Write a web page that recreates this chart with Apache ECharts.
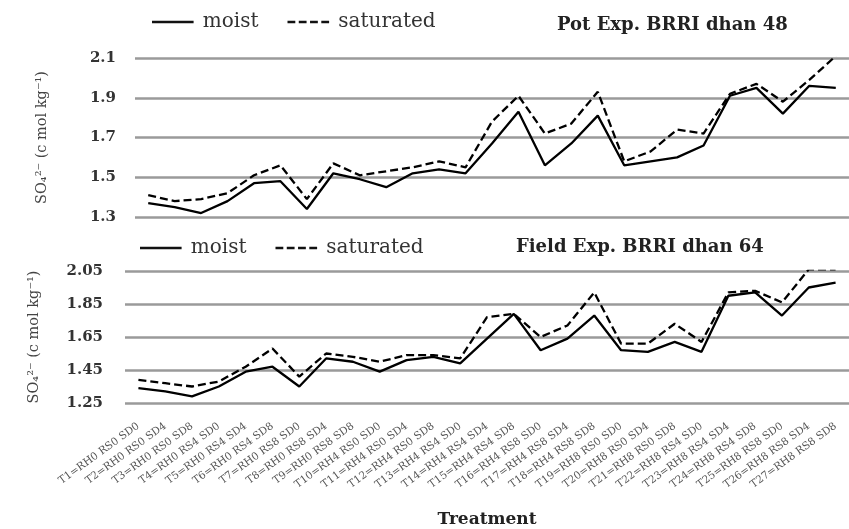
<!DOCTYPE html>
<html>
<head>
<meta charset="utf-8">
<script src="https://cdn.jsdelivr.net/npm/echarts@6/dist/echarts.min.js"></script>
<style>
html,body{margin:0;padding:0;background:#fff;}
#chart{width:849px;height:529px;}
</style>
</head>
<body>
<div id="chart"></div>
<script>
const categories = [
  'T1=RH0 RS0 SD0','T2=RH0 RS0 SD4','T3=RH0 RS0 SD8','T4=RH0 RS4 SD0','T5=RH0 RS4 SD4',
  'T6=RH0 RS4 SD8','T7=RH0 RS8 SD0','T8=RH0 RS8 SD4','T9=RH0 RS8 SD8','T10=RH4 RS0 SD0',
  'T11=RH4 RS0 SD4','T12=RH4 RS0 SD8','T13=RH4 RS4 SD0','T14=RH4 RS4 SD4','T15=RH4 RS4 SD8',
  'T16=RH4 RS8 SD0','T17=RH4 RS8 SD4','T18=RH4 RS8 SD8','T19=RH8 RS0 SD0','T20=RH8 RS0 SD4',
  'T21=RH8 RS0 SD8','T22=RH8 RS4 SD0','T23=RH8 RS4 SD4','T24=RH8 RS4 SD8','T25=RH8 RS8 SD0',
  'T26=RH8 RS8 SD4','T27=RH8 RS8 SD8'
];

// Pot Exp. BRRI dhan 48
const potMoist = [1.37,1.35,1.32,1.38,1.47,1.48,1.34,1.52,1.49,1.45,1.52,1.54,1.52,1.67,1.83,1.56,1.67,1.81,1.56,1.58,1.60,1.66,1.91,1.95,1.82,1.96,1.95];
const potSaturated = [1.41,1.38,1.39,1.42,1.51,1.56,1.39,1.57,1.51,1.53,1.55,1.58,1.55,1.78,1.91,1.72,1.77,1.93,1.58,1.63,1.74,1.72,1.92,1.97,1.88,1.99,2.11];

// Field Exp. BRRI dhan 64
const fieldMoist = [1.34,1.32,1.29,1.35,1.44,1.47,1.35,1.52,1.50,1.44,1.51,1.53,1.49,1.64,1.79,1.57,1.64,1.78,1.57,1.56,1.62,1.56,1.90,1.92,1.78,1.95,1.98];
const fieldSaturated = [1.39,1.37,1.35,1.38,1.47,1.58,1.41,1.55,1.53,1.50,1.54,1.54,1.52,1.77,1.79,1.65,1.72,1.92,1.61,1.61,1.73,1.62,1.92,1.93,1.86,2.06,2.06];

const potTicks = ['1.3','1.5','1.7','1.9','2.1'];
const fieldTicks = ['1.25','1.45','1.65','1.85','2.05'];

const seriesNames = ['moist','saturated'];
const potTitle = 'Pot Exp. BRRI dhan 48';
const fieldTitle = 'Field Exp. BRRI dhan 64';
const yName = 'SO\u2084\u00B2\u207B (c mol kg\u207B\u00B9)';
const xName = 'Treatment';

const serif = '"DejaVu Serif","Liberation Serif",serif';
const gridColor = '#9a9a9a';

function yAxisFor(ticks, dec, step, gridIndex, gap, margin) {
  const mn = parseFloat(ticks[0]), mx = parseFloat(ticks[ticks.length-1]);
  const every = Math.round((parseFloat(ticks[1]) - mn) / step);
  const colors = [gridColor];
  for (let i = 1; i < every; i++) colors.push('rgba(0,0,0,0)');
  return {
    type: 'value', gridIndex: gridIndex, min: mn, max: mx, interval: step,
    axisLine: {show: false}, axisTick: {show: false},
    splitLine: {show: true, lineStyle: {color: colors, width: 2.5}},
    axisLabel: {
      margin: margin, color: '#333', fontFamily: serif, fontWeight: 'bold', fontSize: 15,
      formatter: v => { const s = v.toFixed(dec); return ticks.includes(s) ? s : ''; }
    },
    name: yName, nameLocation: 'middle', nameRotate: 90, nameGap: gap,
    nameTextStyle: {color: '#444', fontFamily: serif, fontSize: 14.5}
  };
}

const solidIcon = 'path://M0,0H48V3H0Z';
const dashIcon = 'path://M0,0H9V3H0Z M13,0H22V3H13Z M26,0H35V3H26Z M39,0H48V3H39Z';
function legendFor(left, top) {
  return {
    data: [{name: seriesNames[0], icon: solidIcon}, {name: seriesNames[1], icon: dashIcon}],
    left: left, top: top, itemWidth: 48, itemHeight: 2.6, itemGap: 29,
    itemStyle: {color: '#111'},
    textStyle: {fontFamily: serif, fontSize: 20, color: '#333', padding: [0, 0, 0, 1]}
  };
}

const chart = echarts.init(document.getElementById('chart'), null, {renderer: 'canvas'});
const lineMoist = {color: '#000', width: 2.3, type: 'solid'};
const lineSat = {color: '#000', width: 2.3, type: [8, 4]};

chart.setOption({
  animation: false,
  backgroundColor: '#fff',
  title: [
    {text: potTitle, left: 552, top: 11, textStyle: {fontFamily: serif, fontWeight: 'bold', fontSize: 18, color: '#222'}},
    {text: fieldTitle, left: 511, top: 233, textStyle: {fontFamily: serif, fontWeight: 'bold', fontSize: 18, color: '#222'}}
  ],
  legend: [legendFor(147, 7), legendFor(135, 233)],
  grid: [
    {left: 135, top: 58, width: 722, height: 159},
    {left: 125, top: 271, width: 735, height: 135}
  ],
  xAxis: [
    {type: 'category', gridIndex: 0, data: categories, boundaryGap: true,
     axisLine: {show: false}, axisTick: {show: false}, axisLabel: {show: false}},
    {type: 'category', gridIndex: 1, data: categories, boundaryGap: true,
     axisLine: {show: false}, axisTick: {show: false},
     axisLabel: {interval: 0, rotate: 36, margin: 22, fontFamily: serif, fontSize: 10.5, color: '#555'},
     name: xName, nameLocation: 'middle', nameGap: 108,
     nameTextStyle: {fontFamily: serif, fontWeight: 'bold', fontSize: 17, color: '#222'}}
  ],
  yAxis: [
    yAxisFor(potTicks, 1, 0.1, 0, 85, 19),
    yAxisFor(fieldTicks, 2, 0.05, 1, 83, 22)
  ],
  series: [
    {name: 'moist', type: 'line', xAxisIndex: 0, yAxisIndex: 0, data: potMoist, symbol: 'none', lineStyle: lineMoist, itemStyle: {color: '#000'}},
    {name: 'saturated', type: 'line', xAxisIndex: 0, yAxisIndex: 0, data: potSaturated, symbol: 'none', lineStyle: lineSat, itemStyle: {color: '#000'}},
    {name: 'moist', type: 'line', xAxisIndex: 1, yAxisIndex: 1, data: fieldMoist, symbol: 'none', lineStyle: lineMoist, itemStyle: {color: '#000'}},
    {name: 'saturated', type: 'line', xAxisIndex: 1, yAxisIndex: 1, data: fieldSaturated, symbol: 'none', lineStyle: lineSat, itemStyle: {color: '#000'}}
  ]
});
</script>
</body>
</html>
